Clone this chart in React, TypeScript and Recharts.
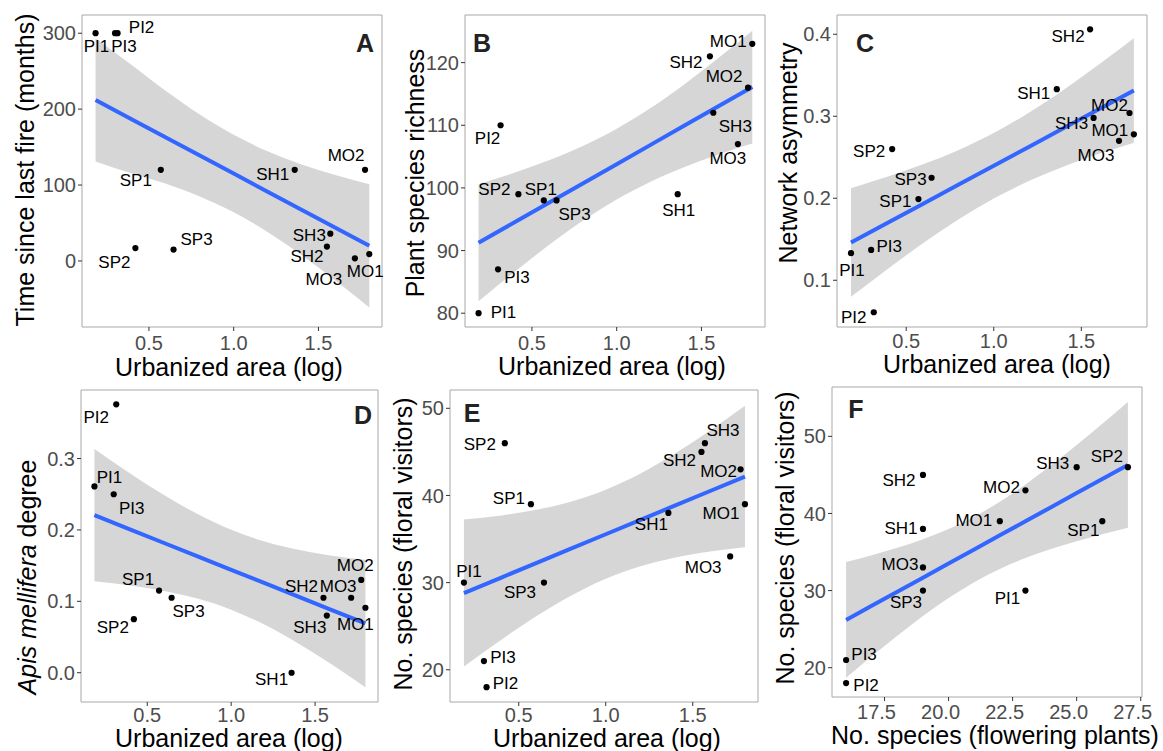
import React from "react";
import { ComposedChart, XAxis, YAxis, Area, Line, Scatter, ReferenceArea } from "recharts";

const FONT = '"Liberation Sans", Arial, Helvetica, sans-serif';

// ---------- data ----------
const sites = ["PI1", "PI2", "PI3", "SP1", "SP2", "SP3", "SH1", "SH2", "SH3", "MO1", "MO2", "MO3"];
const urbanLog = [0.185, 0.315, 0.3, 0.57, 0.42, 0.645, 1.36, 1.55, 1.57, 1.8, 1.775, 1.715];
const fireMonths = [300, 300, 300, 120, 17, 15, 120, 19, 36, 9, 120, 3.5];
const plantRichness = [80, 110, 87, 98, 99, 98, 99, 121, 112, 123, 116, 107];
const networkAsym = [0.133, 0.061, 0.137, 0.199, 0.26, 0.225, 0.333, 0.406, 0.298, 0.278, 0.304, 0.27];
const apisDegree = [0.261, 0.376, 0.25, 0.115, 0.075, 0.105, 0, 0.105, 0.08, 0.091, 0.13, 0.105];
const visitorSpecies = [30, 18, 21, 39, 46, 30, 38, 45, 46, 39, 43, 33];
const floweringSpecies = [23, 16, 16, 26, 27, 19, 19, 19, 25, 22, 23, 19];

// tick labels
const urbanTicks = [0.5, 1.0, 1.5];
const fireTicks = [0, 100, 200, 300];
const richnessTicks = [80, 90, 100, 110, 120];
const asymTicks = [0.1, 0.2, 0.3, 0.4];
const apisTicks = [0.0, 0.1, 0.2, 0.3];
const visitorTicks = [20, 30, 40, 50];
const floweringTicks = [17.5, 20.0, 22.5, 25.0, 27.5];

// fitted lines and 95% bands
const fitUrbanX = [0.185, 0.4, 0.6, 0.8, 1.0, 1.2, 1.4, 1.6, 1.8];
const fireFit = [212, 186.4, 162.7, 138.9, 115.1, 91.3, 67.5, 43.8, 20];
const fireLow = [131, 115.1, 101.6, 85.0, 64.1, 38.2, 7.8, -25.6, -61.2];
const fireHigh = [293, 257.7, 223.8, 192.8, 166.1, 144.4, 127.2, 113.2, 101.2];
const richFit = [91.25, 94.56, 97.64, 100.71, 103.79, 106.87, 109.95, 113.03, 116.1];
const richLow = [81.9, 86.66, 90.87, 94.74, 98.14, 100.99, 103.34, 105.34, 107.1];
const richHigh = [100.6, 102.46, 104.41, 106.68, 109.44, 112.75, 116.56, 120.72, 125.1];
const asymFit = [0.146, 0.1707, 0.1937, 0.2167, 0.2396, 0.2626, 0.2856, 0.3086, 0.3315];
const asymLow = [0.0798, 0.1147, 0.1457, 0.1744, 0.1996, 0.221, 0.2388, 0.2542, 0.2678];
const asymHigh = [0.2122, 0.2267, 0.2417, 0.259, 0.2796, 0.3042, 0.3324, 0.363, 0.3952];
const apisFit = [0.2207, 0.2005, 0.1817, 0.163, 0.1442, 0.1254, 0.1066, 0.0878, 0.069];
const apisLow = [0.1281, 0.1222, 0.1146, 0.1038, 0.0882, 0.0671, 0.0411, 0.0116, -0.0202];
const apisHigh = [0.3133, 0.2788, 0.2488, 0.2222, 0.2002, 0.1837, 0.1721, 0.164, 0.1582];
const visFit = [28.8, 30.58, 32.24, 33.89, 35.55, 37.2, 38.86, 40.51, 42.17];
const visLow = [20.36, 23.45, 26.13, 28.5, 30.45, 31.89, 32.89, 33.57, 34.05];
const visHigh = [37.24, 37.71, 38.35, 39.28, 40.65, 42.51, 44.83, 47.45, 50.29];
const fitFlowX = [16, 17, 18, 19, 20, 21, 22, 23, 24, 25, 26, 27];
const flowFit = [26.2, 28.03, 29.85, 31.68, 33.51, 35.34, 37.16, 38.99, 40.82, 42.64, 44.47, 46.3];
const flowLow = [18.7, 21.48, 24.15, 26.7, 29.03, 31.09, 32.8, 34.21, 35.39, 36.39, 37.3, 38.14];
const flowHigh = [33.7, 34.58, 35.55, 36.66, 37.99, 39.59, 41.52, 43.77, 46.25, 48.89, 51.64, 54.46];

// ---------- layout (label offsets in px, per site order) ----------
const offA = [[1, 13], [24, -6], [9, 13], [-25, 11], [-21, 14], [23, -10], [-22, 5], [-20, 10], [-21, 2], [-4, 17], [-19, -14], [-31, 21]];
const offB = [[25, -1], [-13, 13], [19, 8], [-3, -11], [-24, -5], [18, 14], [1, 16], [-24, 6], [22, 14], [-24, -2], [-24, -11], [-10, 14]];
const offC = [[1, 17], [-20, 5], [18, -3], [-23, 2], [-23, 2], [-21, 2], [-23, 4], [-22, 7], [-22, 6], [-24, -4], [-20, -7], [-23, 15]];
const offD = [[15, -9], [-20, 13], [18, 14], [-21, -11], [-21, 8], [17, 14], [-20, 7], [-22, -11], [-17, 12], [-10, 17], [-6, -14], [-13, -11]];
const offE = [[5, -11], [19, -4], [19, -4], [-22, -6], [-25, 1], [-24, 10], [-17, 12], [-22, 9], [18, -13], [-24, 9], [-22, 2], [-27, 11]];
const offF = [[-18, 8], [20, 2], [18, -5], [-19, 9], [-21, -11], [-17, 12], [-22, 0], [-24, 6], [-24, -4], [-26, -1], [-24, -3], [-23, -3]];

type Pt = { x: number; y: number; name: string; dx: number; dy: number };
type FitRow = { x: number; fit: number; band: [number, number] };

const makePoints = (xs: number[], ys: number[], off: number[][]): Pt[] =>
  sites.map((s, i) => ({ x: xs[i], y: ys[i], name: s, dx: off[i][0], dy: off[i][1] }));
const makeFit = (xs: number[], f: number[], lo: number[], hi: number[]): FitRow[] =>
  xs.map((x, i) => ({ x, fit: f[i], band: [lo[i], hi[i]] }));

const renderPoint = (props: any) => {
  const { cx, cy, payload } = props;
  if (cx == null || cy == null) return <g />;
  return (
    <g>
      <circle cx={cx} cy={cy} r={3.1} fill="#000" />
      <text
        x={cx + payload.dx}
        y={cy + payload.dy}
        textAnchor="middle"
        dominantBaseline="central"
        fontSize={17}
        fontFamily={FONT}
        fill="#000"
      >
        {payload.name}
      </text>
    </g>
  );
};

type PanelProps = {
  box: { L: number; R: number; T: number; B: number };
  xDomain: [number, number];
  yDomain: [number, number];
  xTicks: number[];
  yTicks: number[];
  xFmt: (v: number) => string;
  yFmt: (v: number) => string;
  xTitle: React.ReactNode;
  yTitle: React.ReactNode;
  xTitlePos: [number, number];
  yTitlePos: [number, number];
  letter: string;
  letterPos: [number, number];
  points: Pt[];
  fit: FitRow[];
  xTickMargin: number;
  xTickDx?: number;
};

function Panel(p: PanelProps) {
  const YW = 80;
  const XH = 60;
  const MT = 15;
  const MR = 22;
  const left = p.box.L - YW;
  const top = p.box.T - MT;
  const width = p.box.R - left + MR;
  const height = p.box.B - top + XH;
  const tx = (v: number) => v - left;
  const ty = (v: number) => v - top;
  return (
    <div style={{ position: "absolute", left, top, width, height }}>
      <ComposedChart width={width} height={height} data={p.fit} margin={{ top: MT, right: MR, left: 0, bottom: 0 }}>
        <XAxis
          type="number"
          dataKey="x"
          domain={p.xDomain}
          ticks={p.xTicks}
          tickFormatter={p.xFmt}
          height={XH}
          axisLine={false}
          tickSize={4}
          tickMargin={p.xTickMargin}
          tickLine={{ stroke: "#333" }}
          tick={{ fill: "#4d4d4d", fontSize: 20, fontFamily: FONT, dx: p.xTickDx || 0 }}
          interval={0}
        />
        <YAxis
          type="number"
          domain={p.yDomain}
          ticks={p.yTicks}
          tickFormatter={p.yFmt}
          width={YW}
          axisLine={false}
          tickSize={4}
          tickMargin={2}
          tickLine={{ stroke: "#333" }}
          tick={{ fill: "#4d4d4d", fontSize: 20, fontFamily: FONT }}
          interval={0}
        />
        <Area
          dataKey="band"
          type="monotone"
          stroke="none"
          fill="#999999"
          fillOpacity={0.4}
          isAnimationActive={false}
          activeDot={false}
        />
        <Line
          dataKey="fit"
          type="linear"
          stroke="#3366FF"
          strokeWidth={4}
          dot={false}
          activeDot={false}
          isAnimationActive={false}
        />
        <Scatter data={p.points} dataKey="y" shape={renderPoint} isAnimationActive={false} />
        <ReferenceArea
          x1={p.xDomain[0]}
          x2={p.xDomain[1]}
          y1={p.yDomain[0]}
          y2={p.yDomain[1]}
          fill="none"
          fillOpacity={0}
          stroke="#a8a8a8"
          strokeWidth={1}
          strokeOpacity={1}
          ifOverflow="visible"
        />
        <text
          x={tx(p.xTitlePos[0])}
          y={ty(p.xTitlePos[1])}
          textAnchor="middle"
          dominantBaseline="central"
          fontSize={25}
          fontFamily={FONT}
          fill="#000"
        >
          {p.xTitle}
        </text>
        <text
          x={tx(p.yTitlePos[0])}
          y={ty(p.yTitlePos[1])}
          textAnchor="middle"
          dominantBaseline="central"
          fontSize={25}
          fontFamily={FONT}
          fill="#000"
          transform={`rotate(-90 ${tx(p.yTitlePos[0])} ${ty(p.yTitlePos[1])})`}
        >
          {p.yTitle}
        </text>
        <text
          x={tx(p.letterPos[0])}
          y={ty(p.letterPos[1])}
          textAnchor="middle"
          dominantBaseline="central"
          fontSize={25}
          fontWeight="bold"
          fontFamily={FONT}
          fill="#222"
        >
          {p.letter}
        </text>
      </ComposedChart>
    </div>
  );
}

const f1 = (v: number) => v.toFixed(1);
const f0 = (v: number) => String(Math.round(v));
const URB_DOMAIN: [number, number] = [0.105, 1.875];
const URB_TITLE = "Urbanized area (log)";

export default function App() {
  return (
    <div style={{ position: "absolute", left: 0, top: 0, width: 1163, height: 751, background: "#fff", overflow: "hidden" }}>
      <Panel
        box={{ L: 82, R: 382, T: 15, B: 327 }}
        xDomain={URB_DOMAIN}
        yDomain={[-87, 324]}
        xTicks={urbanTicks}
        yTicks={fireTicks}
        xFmt={f1}
        yFmt={f0}
        xTitle={URB_TITLE}
        yTitle="Time since last fire (months)"
        xTitlePos={[229, 367]}
        yTitlePos={[25, 170]}
        letter="A"
        letterPos={[365, 43]}
        points={makePoints(urbanLog, fireMonths, offA)}
        fit={makeFit(fitUrbanX, fireFit, fireLow, fireHigh)}
        xTickMargin={5}
      />
      <Panel
        box={{ L: 465, R: 765, T: 15, B: 327 }}
        xDomain={URB_DOMAIN}
        yDomain={[77.8, 127.6]}
        xTicks={urbanTicks}
        yTicks={richnessTicks}
        xFmt={f1}
        yFmt={f0}
        xTitle={URB_TITLE}
        yTitle="Plant species richness"
        xTitlePos={[612, 366]}
        yTitlePos={[415, 173]}
        letter="B"
        letterPos={[482, 43]}
        points={makePoints(urbanLog, plantRichness, offB)}
        fit={makeFit(fitUrbanX, richFit, richLow, richHigh)}
        xTickMargin={5}
      />
      <Panel
        box={{ L: 837, R: 1147, T: 15, B: 327 }}
        xDomain={URB_DOMAIN}
        yDomain={[0.043, 0.4235]}
        xTicks={urbanTicks}
        yTicks={asymTicks}
        xFmt={f1}
        yFmt={f1}
        xTitle={URB_TITLE}
        yTitle="Network asymmetry"
        xTitlePos={[997, 364]}
        yTitlePos={[788, 153]}
        letter="C"
        letterPos={[865, 43]}
        points={makePoints(urbanLog, networkAsym, offC)}
        fit={makeFit(fitUrbanX, asymFit, asymLow, asymHigh)}
        xTickMargin={3}
      />
      <Panel
        box={{ L: 81, R: 378, T: 390, B: 702 }}
        xDomain={URB_DOMAIN}
        yDomain={[-0.041, 0.396]}
        xTicks={urbanTicks}
        yTicks={apisTicks}
        xFmt={f1}
        yFmt={f1}
        xTitle={URB_TITLE}
        yTitle={
          <>
            <tspan fontStyle="italic">Apis mellifera</tspan>
            <tspan> degree</tspan>
          </>
        }
        xTitlePos={[229, 738]}
        yTitlePos={[27, 577]}
        letter="D"
        letterPos={[363, 415]}
        points={makePoints(urbanLog, apisDegree, offD)}
        fit={makeFit(fitUrbanX, apisFit, apisLow, apisHigh)}
        xTickMargin={2}
      />
      <Panel
        box={{ L: 450, R: 758, T: 390, B: 702 }}
        xDomain={URB_DOMAIN}
        yDomain={[16.3, 52.1]}
        xTicks={urbanTicks}
        yTicks={visitorTicks}
        xFmt={f1}
        yFmt={f0}
        xTitle={URB_TITLE}
        yTitle="No. species (floral visitors)"
        xTitlePos={[607, 738]}
        yTitlePos={[403, 544]}
        letter="E"
        letterPos={[472, 413]}
        points={makePoints(urbanLog, visitorSpecies, offE)}
        fit={makeFit(fitUrbanX, visFit, visLow, visHigh)}
        xTickMargin={2}
      />
      <Panel
        box={{ L: 832, R: 1142, T: 387, B: 697 }}
        xDomain={[15.45, 27.55]}
        yDomain={[16.2, 56.4]}
        xTicks={floweringTicks}
        yTicks={visitorTicks}
        xFmt={f1}
        yFmt={f0}
        xTitle="No. species (flowering plants)"
        yTitle="No. species (floral visitors)"
        xTitlePos={[995, 735]}
        yTitlePos={[785, 538]}
        letter="F"
        letterPos={[856, 409]}
        points={makePoints(floweringSpecies, visitorSpecies, offF)}
        fit={makeFit(fitFlowX, flowFit, flowLow, flowHigh)}
        xTickMargin={4}
        xTickDx={-8}
      />
    </div>
  );
}
